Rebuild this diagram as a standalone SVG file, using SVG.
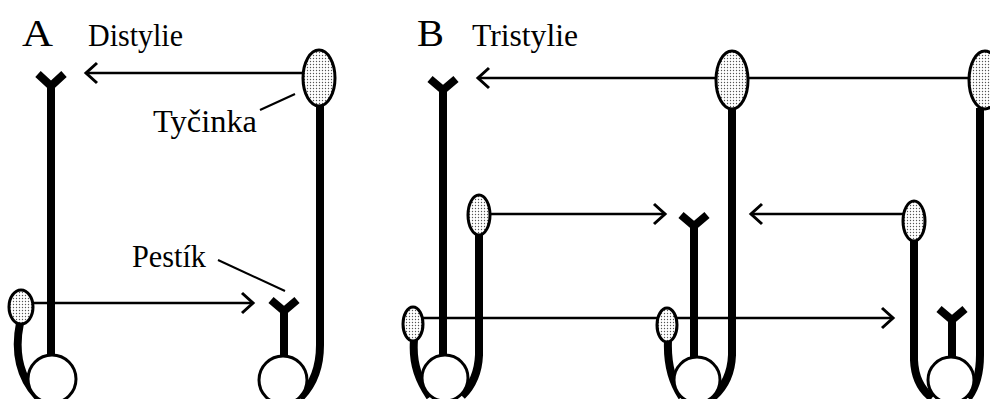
<svg xmlns="http://www.w3.org/2000/svg" width="990" height="399" viewBox="0 0 990 399">
  <defs>
    <pattern id="dots" width="3" height="3" patternUnits="userSpaceOnUse">
      <rect width="3" height="3" fill="#fff"/>
      <circle cx="1.5" cy="1.5" r="0.7" fill="#555"/>
    </pattern>
    <marker id="ah" markerWidth="20" markerHeight="24" refX="14" refY="12" orient="auto" markerUnits="userSpaceOnUse">
      <path d="M3,2 L14,12 L3,22" fill="none" stroke="#000" stroke-width="3"/>
    </marker>
  </defs>
  <style>
    .lbl { font-family: "Liberation Serif", "Times New Roman", serif; fill: #000; }
    .big { font-size: 38px; }
    .mid { font-size: 31px; }
    .conn { stroke: #000; stroke-width: 2.5; fill: none; }
    .arrow { marker-end: url(#ah); }
    .lead { stroke: #000; stroke-width: 2; fill: none; }
    .style { stroke: #000; stroke-width: 8; fill: none; }
    .stig { stroke: #000; stroke-width: 8; fill: none; stroke-linejoin: miter; }
    .fil { stroke: #000; stroke-width: 8; fill: none; }
    .ovary { fill: #fff; stroke: #000; stroke-width: 3; }
    .anther { fill: url(#dots); stroke: #000; stroke-width: 3; }
  </style>
  <rect width="990" height="399" fill="#fff"/>

  <g id="labels">
    <text class="lbl big" x="22" y="46" textLength="31" lengthAdjust="spacingAndGlyphs">A</text>
    <text class="lbl mid" x="88" y="46" textLength="95" lengthAdjust="spacingAndGlyphs">Distylie</text>
    <text class="lbl big" x="417" y="46" textLength="27" lengthAdjust="spacingAndGlyphs">B</text>
    <text class="lbl mid" x="472" y="46" textLength="106" lengthAdjust="spacingAndGlyphs">Tristylie</text>
    <text class="lbl mid" x="153" y="132" textLength="104" lengthAdjust="spacingAndGlyphs">Tyčinka</text>
    <text class="lbl mid" x="132" y="267" textLength="74" lengthAdjust="spacingAndGlyphs">Pestík</text>
  </g>

  <g id="connectors">
    <line class="conn arrow" x1="303" y1="73" x2="86" y2="73"/>
    <line class="conn arrow" x1="33" y1="303" x2="253" y2="303"/>
    <line class="conn arrow" x1="968" y1="78" x2="478" y2="78"/>
    <line class="conn arrow" x1="490" y1="214" x2="665" y2="214"/>
    <line class="conn arrow" x1="903" y1="214" x2="751" y2="214"/>
    <line class="conn arrow" x1="423" y1="318" x2="893" y2="318"/>
    <line class="lead" x1="260" y1="110" x2="295" y2="94"/>
    <line class="lead" x1="218" y1="260" x2="285" y2="291"/>
  </g>

  <g id="flowerA1">
    <path class="fil" d="M20 323 C 14 352, 20 378, 38 397"/>
    <ellipse class="anther" cx="21" cy="307" rx="12" ry="17"/>
    <line class="style" x1="51" y1="84" x2="51" y2="358"/>
    <polyline class="stig" points="38,74 51,86 64,74"/>
    <circle class="ovary" cx="52" cy="379" r="24"/>
  </g>

  <g id="flowerA2">
    <path class="fil" d="M320 105 L320 345 Q320 378 300 398"/>
    <ellipse class="anther" cx="319" cy="78" rx="16" ry="28"/>
    <line class="style" x1="284" y1="309" x2="284" y2="358"/>
    <polyline class="stig" points="271,300 284,311 297,300"/>
    <circle class="ovary" cx="283" cy="380" r="24"/>
  </g>

  <g id="flowerB1">
    <path class="fil" d="M414 340 C 412 365, 420 382, 430 397"/>
    <ellipse class="anther" cx="413" cy="324" rx="10" ry="17"/>
    <path class="fil" d="M479 234 L479 355 Q478 380 462 396"/>
    <ellipse class="anther" cx="479" cy="215" rx="11" ry="20"/>
    <line class="style" x1="443" y1="88" x2="443" y2="357"/>
    <polyline class="stig" points="430,79 443,90 456,79"/>
    <circle class="ovary" cx="445" cy="378" r="23"/>
  </g>

  <g id="flowerB2">
    <path class="fil" d="M668 341 C 667 365, 672 382, 682 397"/>
    <ellipse class="anther" cx="667" cy="325" rx="10" ry="17"/>
    <path class="fil" d="M732 108 L732 355 Q731 382 712 398"/>
    <ellipse class="anther" cx="732" cy="80" rx="16" ry="29"/>
    <line class="style" x1="694" y1="224" x2="694" y2="359"/>
    <polyline class="stig" points="681,215 694,226 707,215"/>
    <circle class="ovary" cx="697" cy="380" r="23"/>
  </g>

  <g id="flowerB3">
    <path class="fil" d="M914 240 L914 360 Q915 385 932 398"/>
    <ellipse class="anther" cx="914" cy="221" rx="11" ry="20"/>
    <path class="fil" d="M980 108 L980 355 Q980 382 968 398"/>
    <ellipse class="anther" cx="985" cy="80" rx="16" ry="29"/>
    <line class="style" x1="952" y1="318" x2="952" y2="359"/>
    <polyline class="stig" points="939,309 952,320 965,309"/>
    <circle class="ovary" cx="951" cy="380" r="23"/>
  </g>
</svg>
